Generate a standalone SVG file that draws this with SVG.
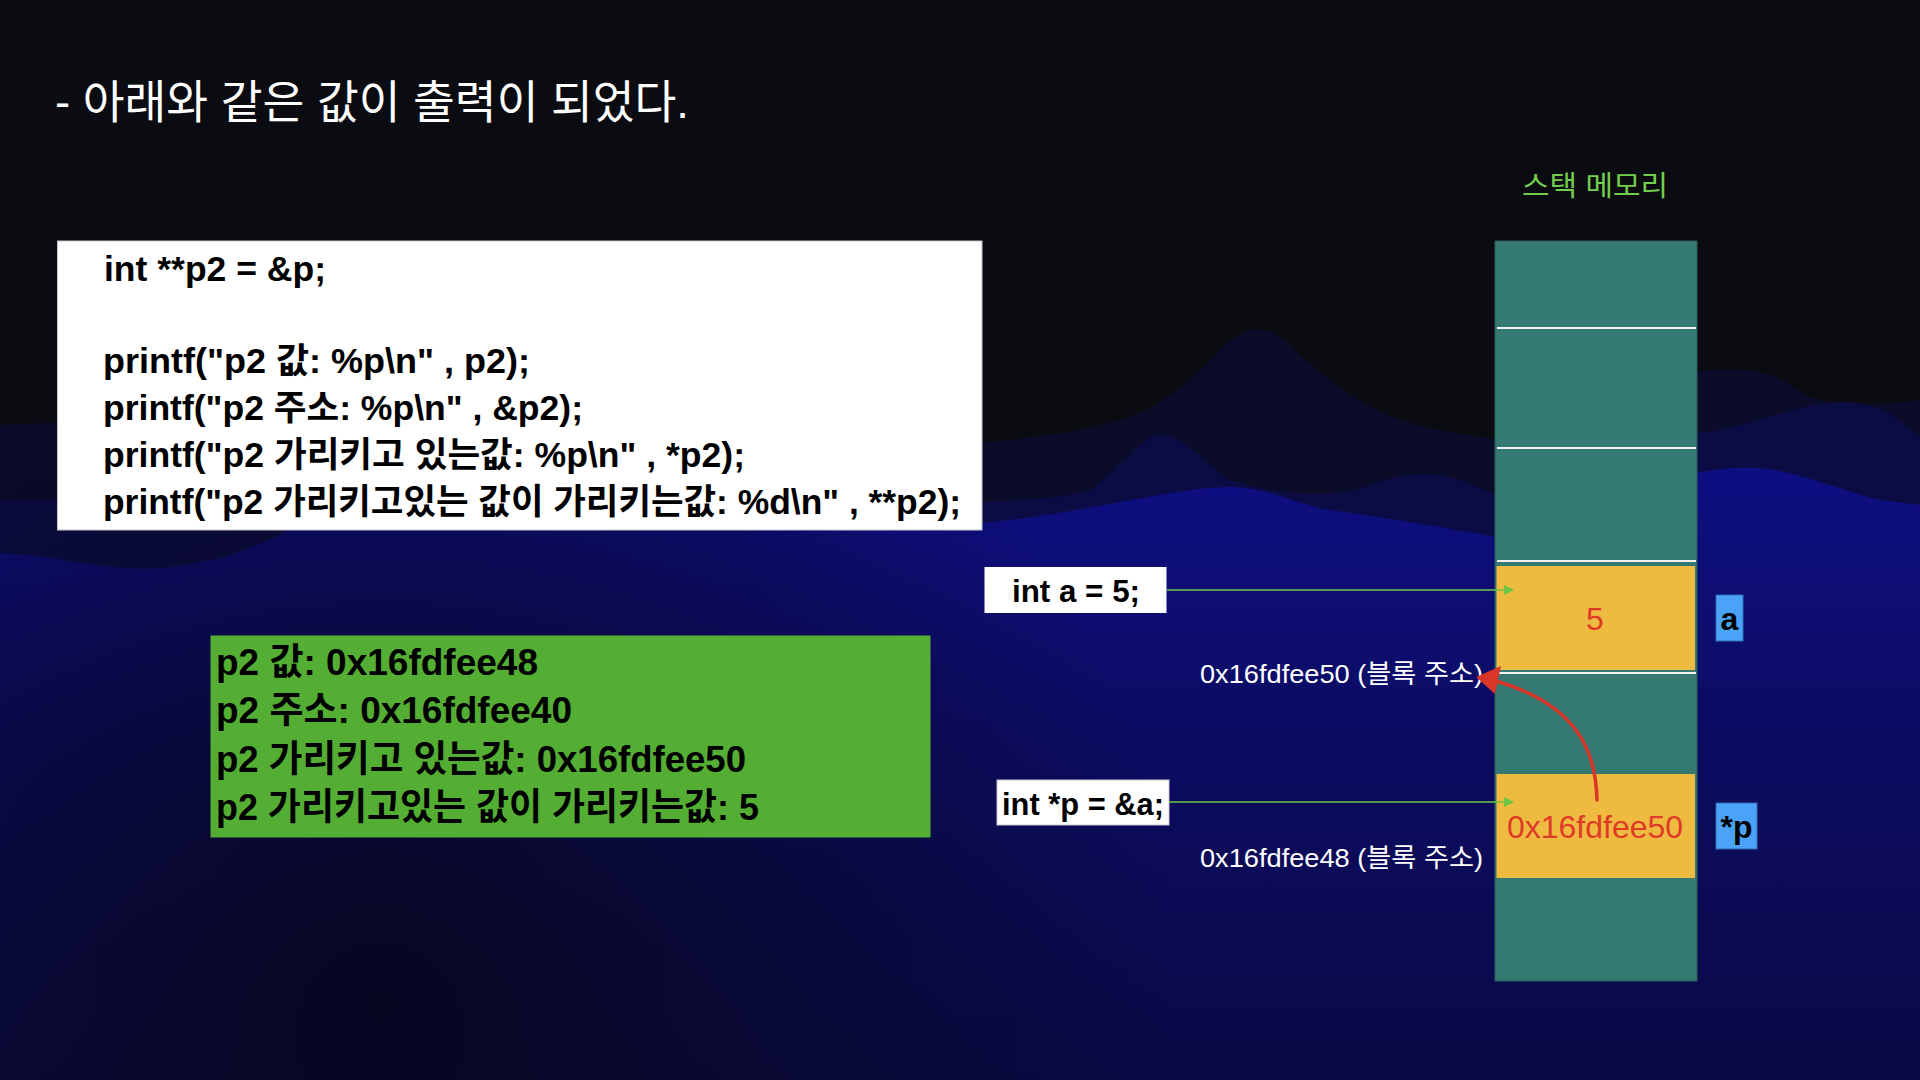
<svg xmlns="http://www.w3.org/2000/svg" width="1920" height="1080" viewBox="0 0 1920 1080">
  <defs>
    <style>
      .f { font-family: 'Liberation Sans', 'Noto Sans CJK KR', sans-serif; }
      .code { font-size: 35px; font-weight: bold; fill: #000; }
      .out { font-size: 37px; font-weight: bold; fill: #000; }
      .addr { font-size: 26.5px; fill: #fff; }
      .decl { font-size: 31px; font-weight: bold; fill: #000; }
      .sep { stroke: #f2f2f2; stroke-width: 2; }
      .conn { stroke: #6cc644; stroke-width: 1.6; fill: none; }
      .tag { fill: #4aa3f7; stroke: #2f6fb8; stroke-width: 1; }
    </style>
    <marker id="ga" viewBox="0 0 10 10" refX="9" refY="5" markerWidth="12" markerHeight="10" markerUnits="userSpaceOnUse" orient="auto">
      <path d="M0,0 L10,5 L0,10 Z" fill="#6cc644"/>
    </marker>
    <linearGradient id="front" x1="0" y1="0" x2="0" y2="1">
      <stop offset="0" stop-color="#0e0e82"/>
      <stop offset="0.45" stop-color="#0c0c62"/>
      <stop offset="1" stop-color="#0a0a46"/>
    </linearGradient>
    <radialGradient id="shade" cx="380" cy="1000" r="800" gradientUnits="userSpaceOnUse">
      <stop offset="0" stop-color="#06061a" stop-opacity="0.85"/>
      <stop offset="0.6" stop-color="#06061a" stop-opacity="0.35"/>
      <stop offset="1" stop-color="#06061a" stop-opacity="0"/>
    </radialGradient>
  </defs>

  <!-- background -->
  <g id="background">
    <rect x="0" y="0" width="1920" height="1080" fill="#0b0b12"/>
    <path d="M0,425 C120,418 200,430 320,428 C500,424 700,440 850,445 C950,448 1050,440 1120,420 C1170,405 1200,370 1225,345 C1245,326 1268,322 1290,345 C1330,385 1380,420 1440,430 L1497,440 L1697,372 C1740,365 1780,372 1800,392 C1830,410 1880,405 1920,400 L1920,1080 L0,1080 Z" fill="#0b0b2a"/>
    <path d="M0,500 C300,495 700,510 900,505 C1000,502 1060,500 1090,490 C1120,470 1140,436 1161,435 C1185,434 1205,465 1230,480 C1280,495 1330,500 1370,485 C1400,474 1430,470 1460,480 L1497,495 L1697,433 C1750,428 1800,402 1843,402 C1880,402 1900,420 1920,437 L1920,1080 L0,1080 Z" fill="#0c0c44"/>
    <path d="M0,553 C60,556 110,572 160,568 C220,563 260,545 290,530 C400,528 600,526 800,526 C900,526 950,524 980,523 C1080,515 1180,485 1235,487 C1270,489 1300,505 1330,510 C1400,520 1460,530 1497,537 L1697,473 C1720,468 1740,467 1760,468 C1800,472 1840,490 1880,500 L1920,505 L1920,1080 L0,1080 Z" fill="url(#front)"/>
    <rect x="0" y="480" width="1920" height="600" fill="url(#shade)"/>
  </g>

  <!-- title -->
  <g id="title">
    <text class="f" x="55" y="118" font-size="46" fill="#ffffff" textLength="634" lengthAdjust="spacingAndGlyphs">- 아래와 같은 값이 출력이 되었다.</text>
  </g>

  <!-- code box -->
  <g id="code-box">
    <rect x="57.5" y="241" width="924.5" height="289" fill="#ffffff" stroke="#c8c8d0" stroke-width="1"/>
    <text class="f code" x="104" y="281" textLength="222" lengthAdjust="spacingAndGlyphs">int **p2 = &amp;p;</text>
    <text class="f code" x="103" y="373" textLength="427" lengthAdjust="spacingAndGlyphs">printf("p2 값: %p\n" , p2);</text>
    <text class="f code" x="103" y="420" textLength="480" lengthAdjust="spacingAndGlyphs">printf("p2 주소: %p\n" , &amp;p2);</text>
    <text class="f code" x="103" y="467" textLength="642" lengthAdjust="spacingAndGlyphs">printf("p2 가리키고 있는값: %p\n" , *p2);</text>
    <text class="f code" x="103" y="514" textLength="858" lengthAdjust="spacingAndGlyphs">printf("p2 가리키고있는 값이 가리키는값: %d\n" , **p2);</text>
  </g>

  <!-- output box -->
  <g id="output-box">
    <rect x="210.5" y="635.5" width="720" height="202" fill="#54ae34"/>
    <text class="f out" x="216" y="675" textLength="322" lengthAdjust="spacingAndGlyphs">p2 값: 0x16fdfee48</text>
    <text class="f out" x="216" y="723" textLength="356" lengthAdjust="spacingAndGlyphs">p2 주소: 0x16fdfee40</text>
    <text class="f out" x="216" y="772" textLength="530" lengthAdjust="spacingAndGlyphs">p2 가리키고 있는값: 0x16fdfee50</text>
    <text class="f out" x="216" y="820" textLength="543" lengthAdjust="spacingAndGlyphs">p2 가리키고있는 값이 가리키는값: 5</text>
  </g>

  <!-- stack memory -->
  <g id="stack-title">
    <text class="f" x="1595" y="196" font-size="28" fill="#72cf4c" text-anchor="middle" textLength="146" lengthAdjust="spacingAndGlyphs">스택 메모리</text>
  </g>

  <g id="stack">
    <rect x="1495" y="241" width="202" height="740" fill="#357a72" stroke="#2a5e5a" stroke-width="1"/>
    <line class="sep" x1="1497" y1="328" x2="1696" y2="328"/>
    <line class="sep" x1="1497" y1="448" x2="1696" y2="448"/>
    <line class="sep" x1="1497" y1="561" x2="1696" y2="561"/>
    <line class="sep" x1="1497" y1="673" x2="1696" y2="673"/>
  </g>

  <g id="cell-a">
    <rect x="1496.5" y="566" width="198.5" height="104" fill="#eeba3f"/>
    <text class="f" x="1595" y="630" font-size="32" fill="#e03a28" text-anchor="middle">5</text>
  </g>

  <g id="cell-p">
    <rect x="1496.5" y="774" width="198.5" height="104" fill="#eeba3f"/>
    <text class="f" x="1595" y="838" font-size="32" fill="#e03a28" text-anchor="middle">0x16fdfee50</text>
  </g>

  <g id="tag-a">
    <rect class="tag" x="1716" y="595" width="27" height="46"/>
    <text class="f" x="1729.5" y="630" font-size="32" font-weight="bold" fill="#000" text-anchor="middle">a</text>
  </g>

  <g id="tag-p">
    <rect class="tag" x="1716" y="803" width="41" height="46"/>
    <text class="f" x="1736.5" y="838" font-size="32" font-weight="bold" fill="#000" text-anchor="middle">*p</text>
  </g>

  <g id="decl-a">
    <rect x="984.5" y="567" width="182" height="46" fill="#ffffff"/>
    <text class="f decl" x="1012" y="602" textLength="128" lengthAdjust="spacingAndGlyphs">int a = 5;</text>
  </g>

  <g id="decl-p">
    <rect x="997" y="780" width="172" height="45" fill="#ffffff" stroke="#c8c8d0" stroke-width="1"/>
    <text class="f decl" x="1002" y="815" textLength="162" lengthAdjust="spacingAndGlyphs">int *p = &amp;a;</text>
  </g>

  <g id="addr-a">
    <text class="f addr" x="1200" y="683" textLength="283" lengthAdjust="spacingAndGlyphs">0x16fdfee50 (블록 주소)</text>
  </g>

  <g id="addr-p">
    <text class="f addr" x="1200" y="867" textLength="283" lengthAdjust="spacingAndGlyphs">0x16fdfee48 (블록 주소)</text>
  </g>

  <!-- connectors -->
  <g id="connectors">
    <line class="conn" x1="1167" y1="590" x2="1513" y2="590" marker-end="url(#ga)"/>
    <line class="conn" x1="1169" y1="802" x2="1513" y2="802" marker-end="url(#ga)"/>
    <path d="M1597,800 C1596,760 1585,705 1492,680" fill="none" stroke="#d9362a" stroke-width="3.5" stroke-linecap="round"/>
    <polygon points="1476,677 1501,666 1495,694" fill="#d9362a"/>
  </g>
</svg>
